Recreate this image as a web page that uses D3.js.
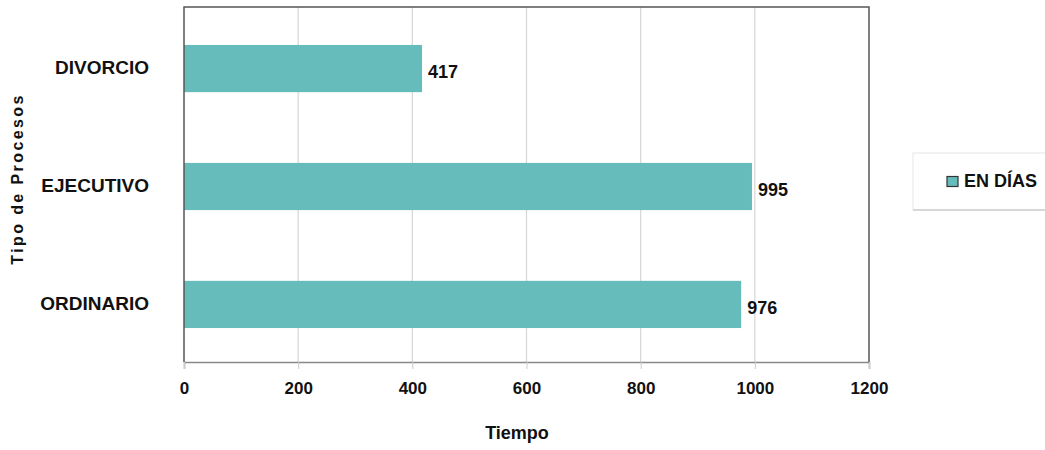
<!DOCTYPE html>
<html><head><meta charset="utf-8">
<script src="https://cdn.jsdelivr.net/npm/d3@7"></script>
<style>
body{margin:0;background:#fff;}
text{font-family:"Liberation Sans",Arial,sans-serif;font-weight:bold;fill:#111;}
</style></head>
<body><svg id="c" width="1045" height="450"></svg>
<script>
const categories = ["DIVORCIO", "EJECUTIVO", "ORDINARIO"];
const values = [417, 995, 976];
const ticks = [0, 200, 400, 600, 800, 1000, 1200];
const seriesName = "EN DÍAS";
const xTitle = "Tiempo";
const yTitle = "Tipo de Procesos";

const svg = d3.select("#c");
const L = 184, R = 869, T = 7, B = 362;
const x = d3.scaleLinear().domain([0, 1200]).range([L, R]);
const y = d3.scaleBand().domain(categories).range([T + 2, B + 2]).paddingInner(0.6).paddingOuter(0.305);
const color = "#65bcbb";
const FF = '"Liberation Sans",Arial,sans-serif';

// gridlines
svg.append("g").selectAll("line").data(ticks.slice(1, -1)).join("line")
  .attr("x1", d => x(d)).attr("x2", d => x(d)).attr("y1", T).attr("y2", B)
  .attr("stroke", "#d6d6d6").attr("stroke-width", 1.2);

// bars
svg.append("g").selectAll("rect").data(values).join("rect")
  .attr("x", x(0)).attr("y", (d, i) => y(categories[i]))
  .attr("width", d => x(d) - x(0)).attr("height", y.bandwidth())
  .attr("fill", color);

// value labels
svg.append("g").selectAll("text").data(values).join("text")
  .attr("x", d => x(d) + 6).attr("y", (d, i) => y(categories[i]) + y.bandwidth() / 2 + 9.5)
  .attr("font-size", 18).text(d => d);

// frame
svg.append("path").attr("d", `M${L},${B}V${T}H${R}V${B}`).attr("fill", "none")
  .attr("stroke", "#555").attr("stroke-width", 1.5);

// x axis
const xa = svg.append("g").attr("transform", `translate(0,${B})`)
  .call(d3.axisBottom(x).tickValues(ticks).tickFormat(d3.format("d")).tickSize(7).tickPadding(13));
xa.select(".domain").attr("stroke", "#888").attr("stroke-width", 1.5);
xa.selectAll(".tick line").attr("stroke", "#ccc");
xa.selectAll("text").attr("font-size", 17).attr("fill", "#111")
  .style("font-family", FF).style("font-weight", "bold");

// y axis labels
const ya = svg.append("g").attr("transform", `translate(${L},0)`)
  .call(d3.axisLeft(y).tickSize(0).tickPadding(35));
ya.select(".domain").remove();
ya.selectAll("text").attr("font-size", 19).attr("fill", "#111").attr("dy", "0.3em")
  .style("font-family", FF).style("font-weight", "bold");

// titles
svg.append("text").attr("x", 517).attr("y", 439).attr("text-anchor", "middle")
  .attr("font-size", 18).text(xTitle);
svg.append("text").attr("transform", "translate(23,179) rotate(-90)").attr("text-anchor", "middle")
  .attr("font-size", 16).style("letter-spacing", "2.4px").text(yTitle);

// legend
const lg = svg.append("g");
lg.append("rect").attr("x", 913).attr("y", 153).attr("width", 140).attr("height", 57)
  .attr("fill", "#fff").attr("stroke", "#e6e6e6");
lg.append("line").attr("x1", 913).attr("x2", 1045).attr("y1", 210).attr("y2", 210).attr("stroke", "#bbb");
lg.append("rect").attr("x", 947).attr("y", 176.5).attr("width", 11).attr("height", 10)
  .attr("fill", color).attr("stroke", "#333").attr("stroke-width", 1.2);
lg.append("text").attr("x", 964).attr("y", 187).attr("font-size", 18).text(seriesName);
</script></body></html>
